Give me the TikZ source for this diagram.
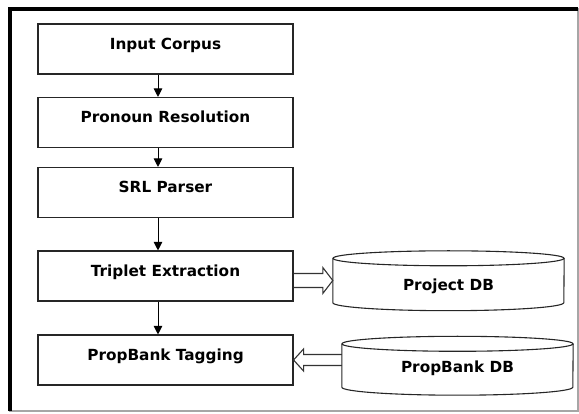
\documentclass[tikz,border=0pt]{standalone}
\usepackage{fontspec}
\setmainfont{DejaVu Sans}
\usetikzlibrary{calc,arrows.meta}

\begin{document}
\begin{tikzpicture}[x=1pt,y=1pt,
  stage/.style={draw=black!85, line width=1.1pt, minimum width=255pt,
    minimum height=50pt, inner sep=0pt,
    font=\bfseries\fontsize{15.3}{18}\selectfont,
    text height=11pt, text depth=10pt},
  dbbody/.style={minimum width=231pt, inner sep=0pt,
    font=\bfseries\fontsize{15.3}{18}\selectfont},
  dbline/.style={draw=black!85, line width=1.1pt},
  flow/.style={draw=black, line width=1pt, -{Triangle[length=8.5pt,width=8.5pt]}},
  hollow/.style={draw=black!80, line width=1.1pt, line join=miter}]

\useasboundingbox (0,0) rectangle (579,-414);

% outer frame: thin grey box with a heavy black top and left edge
\draw[gray!70, line width=1.5pt] (10,-9) rectangle (578,-411);
\draw[black, line width=4pt] (10,-411) -- (10,-9) -- (578,-9);

% processing stages
\node[stage] (ic) at (165.5,-49)   {Input Corpus};
\node[stage] (pr) at (165.5,-122.5) {Pronoun Resolution};
\node[stage] (srl) at (165.5,-192.5) {SRL Parser};
\node[stage] (te) at (165.5,-276)  {Triplet Extraction};
\node[stage] (tg) at (165.5,-360)  {PropBank Tagging};

% databases (body nodes, outlines drawn as cylinders)
\node[dbbody, minimum height=44pt, text height=21pt, text depth=1pt]
  (pdb) at (448.5,-280.5) {Project DB};
\node[dbbody, minimum height=43pt, text height=15pt, text depth=1pt]
  (bdb) at (457.5,-365.5) {PropBank DB};

\foreach \db in {pdb,bdb}{
  \draw[dbline] (\db.north west) -- (\db.south west)
    arc[start angle=180, end angle=360, x radius=115.5pt, y radius=8pt]
    -- (\db.north east);
  \draw[dbline] (\db.north) ellipse[x radius=115.5pt, y radius=7.5pt];
}

% pipeline arrows
\draw[flow] ([xshift=-7.5pt]ic.south)  -- ([xshift=-7.5pt]pr.north);
\draw[flow] ([xshift=-7.5pt]pr.south)  -- ([xshift=-7.5pt]srl.north);
\draw[flow] ([xshift=-7.5pt]srl.south) -- ([xshift=-7.5pt]te.north);
\draw[flow] ([xshift=-7.5pt]te.south)  -- ([xshift=-7.5pt]tg.north);

% block arrow: triplets stored in the project database
\draw[hollow]
  ($(te.east|-pdb.west)+(0,7pt)$) -- ($(pdb.west)+(-10pt,7pt)$)
  -- ($(pdb.west)+(-10pt,13pt)$) -- (pdb.west)
  -- ($(pdb.west)+(-10pt,-13pt)$) -- ($(pdb.west)+(-10pt,-7pt)$)
  -- ($(te.east|-pdb.west)+(0,-7pt)$);

% block arrow: PropBank frames fed into the tagger
\draw[hollow]
  ($(bdb.west|-tg.east)+(0,5.5pt)$) -- ($(tg.east)+(10pt,5.5pt)$)
  -- ($(tg.east)+(10pt,11pt)$) -- (tg.east)
  -- ($(tg.east)+(10pt,-11pt)$) -- ($(tg.east)+(10pt,-5.5pt)$)
  -- ($(bdb.west|-tg.east)+(0,-5.5pt)$);

\end{tikzpicture}
\end{document}
